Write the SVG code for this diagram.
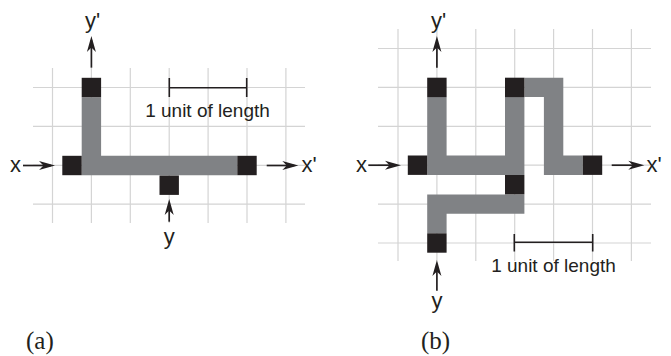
<svg xmlns="http://www.w3.org/2000/svg" width="671" height="356" viewBox="0 0 671 356">
<style>
.grid{stroke:#d4d4d4;stroke-width:1.2;fill:none}
.bar{stroke:#808285;stroke-width:19.4;fill:none;stroke-linejoin:miter;stroke-linecap:butt}
.sq{fill:#231f20}
.arr{stroke:#231f20;stroke-width:1.7;fill:none;marker-end:url(#ah)}
.scale{stroke:#231f20;stroke-width:1.6;fill:none}
.lbl{font-family:"Liberation Sans",Arial,sans-serif;font-size:22px;fill:#231f20}
.txt{font-family:"Liberation Sans",Arial,sans-serif;font-size:19px;fill:#231f20}
.cap{font-family:"Liberation Serif","Times New Roman",serif;font-size:25px;fill:#231f20}
</style>
<defs>
<marker id="ah" markerUnits="userSpaceOnUse" markerWidth="17" markerHeight="11" viewBox="0 0 17 11" refX="12" refY="5.5" orient="auto">
<path d="M0,1 L16,5.5 L0,10 L4.5,5.5 z" fill="#231f20"/>
</marker>
</defs>
<rect width="671" height="356" fill="#ffffff"/>

<g id="grid-a" class="grid">
<path d="M52.5,68V223M91.4,68V223M130.3,68V223M169.2,68V223M208.1,68V223M247,68V223M285.9,68V223"/>
<path d="M33,87.5H305M33,126.4H305M33,165.3H305M33,204.2H305"/>
</g>

<g id="grid-b" class="grid">
<path d="M398,29V261M436.9,29V261M475.8,29V261M514.7,29V261M553.6,29V261M592.5,29V261M631.4,29V261"/>
<path d="M378,48.5H651M378,87.4H651M378,126.3H651M378,165.2H651M378,204.1H651M378,243H651"/>
</g>

<g id="connectors">
<g id="wires-a">
<path class="bar" d="M91.4,97.2V165.5H237.3"/>
</g>
<g id="wires-b">
<path class="bar" d="M436.9,97.1V165.2H514.7"/>
<path class="bar" d="M514.7,97.1V175"/>
<path class="bar" d="M524.4,87.4H553.6V165.2H582.8"/>
<path class="bar" d="M524.4,204.1H436.9V233.3"/>
</g>
<g id="arrows-a">
<path class="arr" d="M91.4,67.7V40"/>
<path class="arr" d="M23,165.5H51"/>
<path class="arr" d="M266.7,165.5H294.3"/>
<path class="arr" d="M169.2,221.7V203"/>
</g>
<g id="arrows-b">
<path class="arr" d="M436.9,67.7V40"/>
<path class="arr" d="M368.3,165.2H397"/>
<path class="arr" d="M611.7,165.2H640.3"/>
<path class="arr" d="M436.9,290.7V264"/>
</g>
</g>

<g id="node-a-yprime"><rect class="sq" x="81.7" y="77.8" width="19.4" height="19.4"/></g>
<g id="node-a-x"><rect class="sq" x="62.3" y="155.8" width="19.4" height="19.4"/></g>
<g id="node-a-xprime"><rect class="sq" x="237.3" y="155.8" width="19.4" height="19.4"/></g>
<g id="node-a-y"><rect class="sq" x="159.5" y="175.5" width="19.4" height="19.4"/></g>

<g id="node-b-yprime"><rect class="sq" x="427.2" y="77.7" width="19.4" height="19.4"/></g>
<g id="node-b-top"><rect class="sq" x="505" y="77.7" width="19.4" height="19.4"/></g>
<g id="node-b-x"><rect class="sq" x="407.8" y="155.5" width="19.4" height="19.4"/></g>
<g id="node-b-xprime"><rect class="sq" x="582.8" y="155.5" width="19.4" height="19.4"/></g>
<g id="node-b-mid"><rect class="sq" x="505" y="175" width="19.4" height="19.4"/></g>
<g id="node-b-y"><rect class="sq" x="427.2" y="233.3" width="19.4" height="19.4"/></g>

<g id="labels-a">
<text class="lbl" x="85" y="28">y'</text>
<text class="lbl" x="10" y="172">x</text>
<text class="lbl" x="301.5" y="172">x'</text>
<text class="lbl" x="169.2" y="244" text-anchor="middle">y</text>
<path class="scale" d="M169.3,87.7H246.7M169.3,78V97M246.7,78V97"/>
<text class="txt" x="207.5" y="117" text-anchor="middle">1 unit of length</text>
<text class="cap" x="26" y="349">(a)</text>
</g>

<g id="labels-b">
<text class="lbl" x="431" y="28">y'</text>
<text class="lbl" x="356" y="172">x</text>
<text class="lbl" x="646.5" y="172">x'</text>
<text class="lbl" x="436.9" y="308" text-anchor="middle">y</text>
<path class="scale" d="M514.3,242.3H592.7M514.3,234V251.5M592.7,234V251.5"/>
<text class="txt" x="553.5" y="272" text-anchor="middle">1 unit of length</text>
<text class="cap" x="421" y="349">(b)</text>
</g>
</svg>
